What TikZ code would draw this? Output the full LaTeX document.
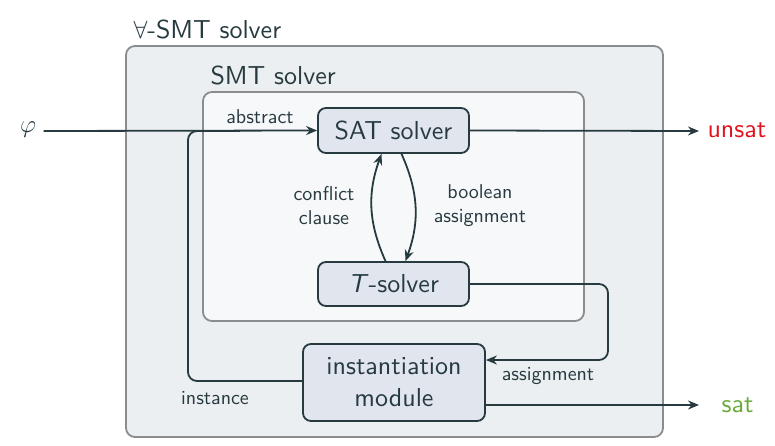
\documentclass[tikz,border=0pt]{standalone}
\usepackage{fontspec}
\setsansfont{lmsans10-regular.otf}[ItalicFont=lmsans10-oblique.otf, BoldFont=lmsans10-bold.otf]
\usetikzlibrary{arrows.meta}
\definecolor{ink}{HTML}{263A40}
\definecolor{framegray}{HTML}{8A8D90}
\definecolor{outerfill}{HTML}{ECEFF2}
\definecolor{innerfill}{HTML}{F7F8FA}
\definecolor{boxfill}{HTML}{E1E6EE}
\definecolor{unsatred}{HTML}{E0141E}
\definecolor{satgreen}{HTML}{6AAA3C}
\begin{document}
\begin{tikzpicture}[x=1pt,y=-1pt,
  every node/.style={font=\sffamily, text=ink},
  frame/.style={draw=framegray, line width=1.8pt, rounded corners=9pt},
  comp/.style={draw=ink, fill=boxfill, line width=1.8pt, rounded corners=8pt,
    font=\sffamily\fontsize{26}{32}\selectfont, align=center},
  big/.style={font=\sffamily\fontsize{26}{30}\selectfont},
  small/.style={font=\sffamily\fontsize{20}{24}\selectfont, align=center},
  flow/.style={draw=ink, line width=1.8pt, -{Stealth[length=11pt,width=9pt]}},
  plain/.style={draw=ink, line width=1.8pt}]
\useasboundingbox (0,0) rectangle (775,446);

% nested solver frames
\draw[frame, fill=outerfill] (126,46) rectangle (663,437);
\draw[frame, fill=innerfill] (203,92) rectangle (584,321);
\node[big, anchor=west] (outertitle) at (130,29) {$\forall$-SMT solver};
\node[big, anchor=west] (innertitle) at (207,75) {SMT solver};

% components
\node[comp, minimum width=151pt, minimum height=45pt] (sat) at (393.5,130.5) {SAT solver};
\node[comp, minimum width=151pt, minimum height=44pt] (tsol) at (393.5,284) {\textit{T}-solver};
\node[comp, minimum width=182pt, minimum height=77pt] (inst) at (394,382.5) {instantiation\\module};

% inputs and outputs
\node[font=\fontsize{26}{30}\selectfont] (phi) at (28,130) {$\varphi$};
\node[big, text=unsatred, anchor=west] (unsat) at (704,130) {unsat};
\node[big, text=satgreen, anchor=west] (sat2) at (718,405) {sat};
\coordinate (unsatin) at (699,131);
\coordinate (satin) at (699,405);

\draw[flow] (phi.east) ++(4,1) -- (sat.west);
\draw[flow] (sat.east) -- (unsatin);
\draw[flow] (inst.east |- satin) -- (satin);

% SAT / theory solver loop
\draw[flow] ([xshift=8pt]sat.south) to[bend left=22] ([xshift=12pt]tsol.north);
\draw[flow] ([xshift=-8pt]tsol.north) to[bend left=22] ([xshift=-12pt]sat.south);
\node[small] (conflict) at (324,206) {conflict\\clause};
\node[small] (boolean) at (480,206) {boolean\\assignment};

% theory assignment back to instantiation
\draw[flow, rounded corners=9pt] (tsol.east) -- (608,284) -- (608,360) -- (inst.east |- 0,360);
\node[small, anchor=north] (assign) at (548,364) {assignment};

% new instances back into abstraction
\draw[plain, rounded corners=9pt] (inst.west |- 0,381) -- (188,381) -- (188,131) -- (240,131);
\node[small] (instance) at (215,398) {instance};
\node[small] (abstract) at (260,117) {abstract};
\end{tikzpicture}
\end{document}
